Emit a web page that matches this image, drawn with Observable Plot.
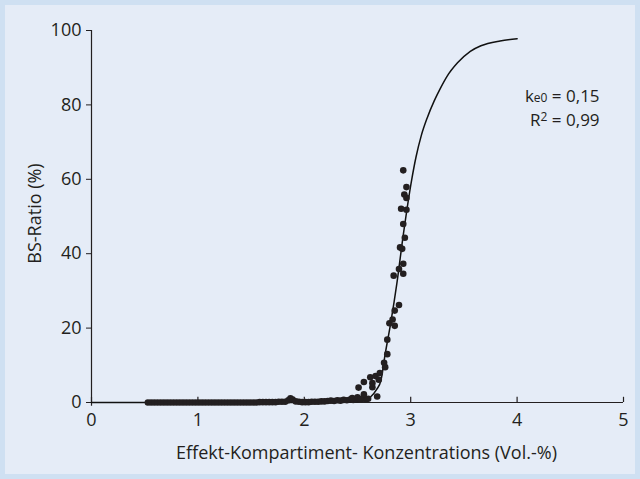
<!DOCTYPE html>
<html><head><meta charset="utf-8">
<script src="https://cdn.jsdelivr.net/npm/d3@7"></script>
<script src="https://cdn.jsdelivr.net/npm/@observablehq/plot@0.6"></script>
<style>
html,body{margin:0;padding:0;}
body{width:640px;height:479px;background:#cfe0f2;position:relative;overflow:hidden;font-family:"Open Sans",sans-serif;}
#panel{position:absolute;left:5px;top:5px;right:5px;bottom:5px;background:#e5ecf7;}
#chart{position:absolute;left:0;top:0;}
</style></head><body><div id="panel"></div><div id="chart"></div>
<script>
// Axis ticks
const xTicks = [0, 1, 2, 3, 4, 5];
const yTicks = [0, 20, 40, 60, 80, 100];
const xLabel = "Effekt-Kompartiment- Konzentrations (Vol.-%)";
const yLabel = "BS-Ratio (%)";
const annot1 = {k: "k", sub: "e0", rest: " = 0,15"};
const annot2 = {k: "R", sup: "2", rest: " = 0,99"};

// Fitted curve
const curveX = [0, 1.0, 2.0, 2.4, 2.5, 2.56, 2.62, 2.68, 2.72, 2.76, 2.81, 2.87, 2.93, 3.01, 3.05, 3.10, 3.155, 3.22, 3.28, 3.34, 3.44, 3.56, 3.66, 3.84, 4.0];
const curveY = [0, 0, 0, 0.1, 0.3, 0.6, 1.4, 3.5, 5.9, 13, 21, 32, 45, 60, 66, 71.8, 76.5, 81, 84.5, 87.6, 91.3, 94.4, 95.9, 97.2, 97.8];

// Observed points: dense baseline band
const baseX = [0.53,0.56,0.59,0.62,0.65,0.68,0.71,0.74,0.77,0.80,0.83,0.86,0.89,0.92,0.95,0.98,1.01,1.04,1.07,1.10,1.13,1.16,1.19,1.22,1.25,1.28,1.31,1.34,1.37,1.40,1.43,1.46,1.49,1.52,1.55,1.58,1.61,1.64,1.67,1.70,1.73,1.76,1.79,1.82,1.85,1.87,1.89,1.92,1.95,1.98,2.01,2.04,2.07,2.10,2.13,2.16,2.19,2.22,2.25,2.28,2.31,2.34,2.37,2.40,2.43,2.46,2.49,2.52,2.55,2.58];
const baseY = [0,0,0,0,0,0,0,0,0,0,0,0,0,0,0,0,0,0,0,0,0,0,0,0,0,0,0,0,0,0,0,0,0,0,0,0.1,0.1,0.1,0.1,0.1,0.1,0.2,0.2,0.2,0.6,1.1,0.8,0.3,0.2,0.1,0.1,0.1,0.2,0.2,0.2,0.3,0.3,0.4,0.5,0.4,0.6,0.5,0.7,0.6,0.8,0.7,0.9,0.8,1.0,0.9];
// Observed points: rising part
const riseX = [2.45,2.50,2.53,2.51,2.56,2.56,2.60,2.62,2.64,2.64,2.67,2.685,2.70,2.71,2.75,2.76,2.78,2.78,2.80,2.83,2.85,2.85,2.89,2.84,2.93,2.89,2.93,2.90,2.92,2.945,2.93,2.91,2.96,2.94,2.96,2.96,2.93];
const riseY = [1.2,1.4,0.9,4.0,5.5,2.2,1.0,6.8,4.1,5.2,7.1,1.6,6.1,7.9,10.7,9.5,13.0,16.9,21.3,22.3,20.6,24.7,26.2,34.1,34.6,35.9,37.3,41.7,41.3,44.3,48.0,52.1,51.8,55.9,55.0,57.9,62.4];

const curve = curveX.map((x, i) => ({x, y: curveY[i]}));
const points = baseX.map((x, i) => ({x, y: baseY[i]}))
  .concat(riseX.map((x, i) => ({x, y: riseY[i]})));

const ink = "#231f20";
const fs = 18;
const plot = Plot.plot({
  width: 640, height: 479,
  marginLeft: 91, marginRight: 17, marginTop: 30, marginBottom: 77,
  x: {domain: [0, 5]},
  y: {domain: [0, 100]},
  style: {background: "transparent", fontFamily: "'Open Sans', sans-serif", fontSize: fs + "px", color: ink, overflow: "visible"},
  marks: [
    Plot.axisY(yTicks, {tickSize: 5, tickPadding: 5, label: null, fontSize: fs, stroke: ink}),
    Plot.axisX(xTicks, {tickSize: 0, tickPadding: 11, label: null, fontSize: fs}),
    Plot.ruleX(xTicks, {y1: 0, y2: 1.4, stroke: ink, strokeWidth: 1.2}),
    Plot.ruleY([0], {x1: 0, x2: 5, stroke: ink, strokeWidth: 1.2}),
    Plot.ruleX([0], {y1: -1, y2: 100, stroke: ink, strokeWidth: 1.2}),
    Plot.line(curve, {x: "x", y: "y", stroke: "#111", strokeWidth: 1.5, curve: "monotone-x"}),
    Plot.dot(points, {x: "x", y: "y", r: 3.3, fill: ink, stroke: "none"}),
    Plot.text([xLabel], {frameAnchor: "bottom", dy: 51, dx: 9, fontSize: fs, lineAnchor: "middle", textAnchor: "middle", fill: ink}),
    Plot.text([yLabel], {frameAnchor: "left", dx: -56, dy: -3, rotate: -90, fontSize: fs, lineAnchor: "middle", textAnchor: "middle", fill: ink})
  ]
});
document.getElementById("chart").appendChild(plot);

// Annotation with sub/superscripts, positioned via the plot's scales
const sx = plot.scale("x"), sy = plot.scale("y");
const svg = d3.select(plot);
const ax = sx.apply(4.78);
const afs = 17;
const t1 = svg.append("text").attr("x", ax).attr("y", sy.apply(80.6))
  .attr("text-anchor", "end").attr("fill", ink).style("font-size", afs + "px");
t1.append("tspan").text(annot1.k);
t1.append("tspan").style("font-size", "12px").text(annot1.sub);
t1.append("tspan").text(annot1.rest);
const t2 = svg.append("text").attr("x", ax).attr("y", sy.apply(74.2))
  .attr("text-anchor", "end").attr("fill", ink).style("font-size", afs + "px");
t2.append("tspan").text(annot2.k);
t2.append("tspan").style("font-size", "12px").attr("dy", -5).text(annot2.sup);
t2.append("tspan").attr("dy", 5).text(annot2.rest);
</script></body></html>
